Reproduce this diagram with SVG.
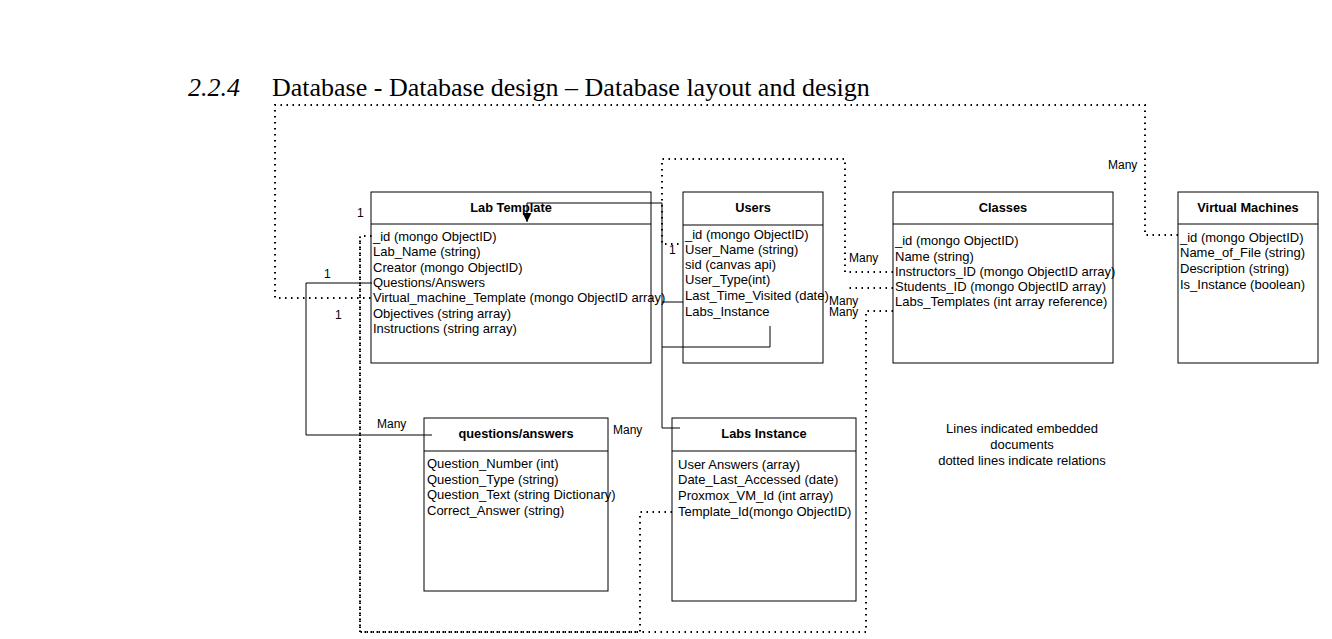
<svg xmlns="http://www.w3.org/2000/svg" width="1332" height="639" viewBox="0 0 1332 639">
<style>
.box{fill:#fff;stroke:#000;stroke-width:1}
.t{font-family:"Liberation Sans",Arial,sans-serif;font-size:13px;fill:#000}
.l{font-family:"Liberation Sans",Arial,sans-serif;font-size:12px;fill:#000}
.h{font-family:"Liberation Sans",Arial,sans-serif;font-size:12.8px;font-weight:bold;fill:#000;text-anchor:middle}
.solid{fill:none;stroke:#000;stroke-width:1}
.dot{fill:none;stroke:#000;stroke-width:2;stroke-dasharray:1.5 4.5}
</style>
<defs>
<marker id="arr" viewBox="0 0 10 10" refX="10" refY="5" markerWidth="9" markerHeight="9" markerUnits="userSpaceOnUse" orient="auto">
<path d="M0,0 L10,5 L0,10 z" fill="#000"/>
</marker>
</defs>
<rect width="1332" height="639" fill="#fff"/>
<g id="title">
<text x="188" y="96" font-family="Liberation Serif,'Times New Roman',serif" font-size="26" font-style="italic">2.2.4</text>
<text x="272" y="96" font-family="Liberation Serif,'Times New Roman',serif" font-size="26">Database - Database design – Database layout and design</text>
</g>
<g id="lab-template">
<rect class="box" x="371" y="192" width="280" height="171"/>
<line class="solid" x1="371" y1="224" x2="651" y2="224"/>
<text class="h" x="511" y="212">Lab Template</text>
<text class="t" x="373" y="241">_id (mongo ObjectID)</text>
<text class="t" x="373" y="256">Lab_Name (string)</text>
<text class="t" x="373" y="272">Creator (mongo ObjectID)</text>
<text class="t" x="373" y="287">Questions/Answers</text>
<text class="t" x="373" y="302">Virtual_machine_Template (mongo ObjectID array)</text>
<text class="t" x="373" y="318">Objectives (string array)</text>
<text class="t" x="373" y="333">Instructions (string array)</text>
</g>
<g id="users">
<rect class="box" x="683" y="192" width="140" height="171"/>
<line class="solid" x1="683" y1="225" x2="823" y2="225"/>
<text class="h" x="753" y="212">Users</text>
<text class="t" x="685" y="239">_id (mongo ObjectID)</text>
<text class="t" x="685" y="254">User_Name (string)</text>
<text class="t" x="685" y="269">sid (canvas api)</text>
<text class="t" x="685" y="284">User_Type(int)</text>
<text class="t" x="685" y="300">Last_Time_Visited (date)</text>
<text class="t" x="685" y="316">Labs_Instance</text>
</g>
<g id="classes">
<rect class="box" x="893" y="192" width="220" height="171"/>
<line class="solid" x1="893" y1="224" x2="1113" y2="224"/>
<text class="h" x="1003" y="212">Classes</text>
<text class="t" x="895" y="245">_id (mongo ObjectID)</text>
<text class="t" x="895" y="261">Name (string)</text>
<text class="t" x="895" y="276">Instructors_ID (mongo ObjectID array)</text>
<text class="t" x="895" y="291">Students_ID (mongo ObjectID array)</text>
<text class="t" x="895" y="306">Labs_Templates (int array reference)</text>
</g>
<g id="virtual-machines">
<rect class="box" x="1178" y="192" width="140" height="171"/>
<line class="solid" x1="1178" y1="224" x2="1318" y2="224"/>
<text class="h" x="1248" y="212">Virtual Machines</text>
<text class="t" x="1180" y="242">_id (mongo ObjectID)</text>
<text class="t" x="1180" y="257">Name_of_File (string)</text>
<text class="t" x="1180" y="273">Description (string)</text>
<text class="t" x="1180" y="289">Is_Instance (boolean)</text>
</g>
<g id="questions-answers">
<rect class="box" x="424" y="418" width="184" height="173"/>
<line class="solid" x1="424" y1="451" x2="608" y2="451"/>
<text class="h" x="516" y="438">questions/answers</text>
<text class="t" x="427" y="468">Question_Number (int)</text>
<text class="t" x="427" y="484">Question_Type (string)</text>
<text class="t" x="427" y="499">Question_Text (string Dictionary)</text>
<text class="t" x="427" y="515">Correct_Answer (string)</text>
</g>
<g id="labs-instance">
<rect class="box" x="672" y="418" width="184" height="183"/>
<line class="solid" x1="672" y1="451" x2="856" y2="451"/>
<text class="h" x="764" y="438">Labs Instance</text>
<text class="t" x="678" y="469">User Answers (array)</text>
<text class="t" x="678" y="484">Date_Last_Accessed (date)</text>
<text class="t" x="678" y="500">Proxmox_VM_Id (int array)</text>
<text class="t" x="678" y="516">Template_Id(mongo ObjectID)</text>
</g>
<g id="connectors">
<path class="dot" d="M1178,235 H1145 V105 H275 V298 H372"/>
<path class="dot" d="M893,311 H866 V632 H360 V236 H372"/>
<path class="dot" d="M672,512 H640 V632 H360 V236"/>
<path class="dot" d="M893,272 H845 V159 H662 V244 H683"/>
<path class="dot" d="M893,288 H845"/>
<path class="solid" d="M372,283 H306 V435 H432"/>
<path class="solid" d="M770,326 V347 H662"/>
<path class="solid" d="M662,302 H683"/>
<path class="solid" d="M680,428 H662 V203 H527 V222" marker-end="url(#arr)"/>
</g>
<g id="labels">
<text class="l" x="1108" y="169">Many</text>
<text class="l" x="357" y="217">1</text>
<text class="l" x="324" y="278">1</text>
<text class="l" x="335" y="319">1</text>
<text class="l" x="669" y="254">1</text>
<text class="l" x="849" y="262">Many</text>
<text class="l" x="829" y="305">Many</text>
<text class="l" x="829" y="316">Many</text>
<text class="l" x="377" y="428">Many</text>
<text class="l" x="613" y="434">Many</text>
</g>
<g id="note">
<text class="t" x="1022" y="433" text-anchor="middle">Lines indicated embedded</text>
<text class="t" x="1022" y="449" text-anchor="middle">documents</text>
<text class="t" x="1022" y="465" text-anchor="middle">dotted lines indicate relations</text>
</g>
</svg>
